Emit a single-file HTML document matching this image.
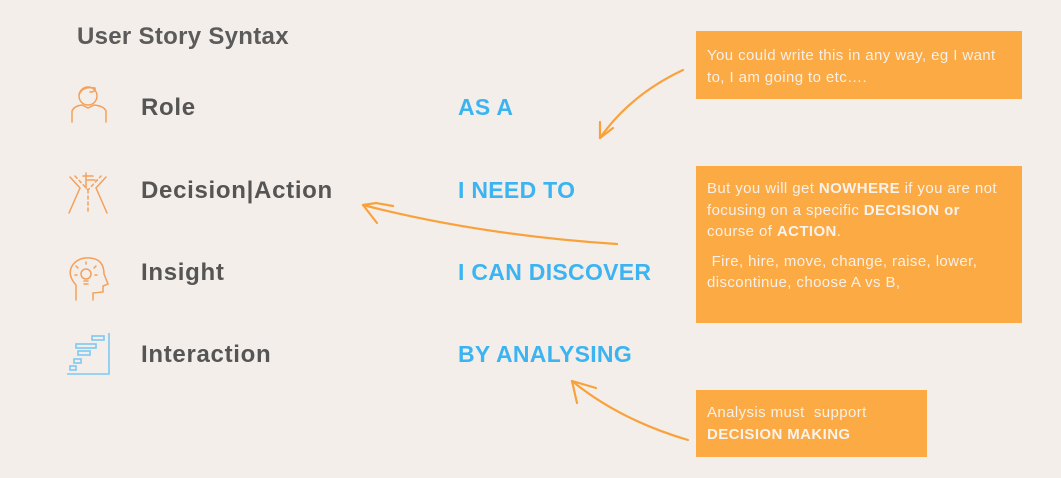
<!DOCTYPE html>
<html><head><meta charset="utf-8"><style>
html,body{margin:0;padding:0}
body{width:1061px;height:478px;background:#f3eeea;position:relative;overflow:hidden;font-family:"Liberation Sans",sans-serif}
.t{position:absolute;white-space:nowrap}
.title{left:77px;top:23px;font-size:24px;font-weight:bold;color:#5b5b5b;letter-spacing:0.3px}
.lab{left:141px;font-size:24px;font-weight:bold;color:#555;letter-spacing:0.7px}
.blue{left:458px;font-size:23px;font-weight:bold;color:#3bb4f1;letter-spacing:0.3px}
.box{position:absolute;background:#fcaa43;color:#f6f0ea;font-size:15px;letter-spacing:0.4px;line-height:21.5px;padding:13px 11px;box-sizing:border-box;white-space:nowrap}
.box b{color:#f8f3ee}
svg{position:absolute;left:0;top:0}
</style></head><body>
<div class="t title">User Story Syntax</div>
<div class="t lab" style="top:94px">Role</div>
<div class="t lab" style="top:177px">Decision|Action</div>
<div class="t lab" style="top:259px">Insight</div>
<div class="t lab" style="top:341px">Interaction</div>
<div class="t blue" style="top:94px">AS A</div>
<div class="t blue" style="top:177px">I NEED TO</div>
<div class="t blue" style="top:259px">I CAN DISCOVER</div>
<div class="t blue" style="top:341px">BY ANALYSING</div>

<div class="box" style="left:696px;top:31px;width:326px;height:68px;padding-top:14px">You could write this in any way, eg I want<br>to, I am going to etc….</div>
<div class="box" style="left:696px;top:166px;width:326px;height:157px;padding-top:12px">But you will get <b>NOWHERE</b> if you are not<br>focusing on a specific <b>DECISION or</b><br>course of <b>ACTION</b>.<div style="height:8px"></div>&nbsp;Fire, hire, move, change, raise, lower,<br>discontinue, choose A vs B,</div>
<div class="box" style="left:696px;top:390px;width:231px;height:67px;padding-top:12px">Analysis must&nbsp; support<br><b>DECISION MAKING</b></div>

<svg width="1061" height="478" viewBox="0 0 1061 478" fill="none">
<g stroke="#f9a23c" stroke-width="2.2" stroke-linecap="round">
<path d="M683 70 Q630 95 600 138"/>
<path d="M600 138 L600 122 M600 138 L613 128"/>
<path d="M617 244 Q480 235 363 205"/>
<path d="M363 205 L376 203 L393 206 M363 205 L377 223"/>
<path d="M688 440 Q620 420 572 381"/>
<path d="M572 381 L577 403 M572 381 L596 388"/>
</g>
<g stroke="#f5a05a" stroke-width="1.5" stroke-linecap="round">
<circle cx="88" cy="96" r="9"/>
<path d="M79 95 Q82 86 95 88 Q96 92 90 92"/>
<path d="M72 122 L72 111 Q74 106 82 105 L88 108 L94 105 Q104 106 106 111 L106 122"/>
<path d="M70 177 L80 188 L76 197 L69 213 M106 177 L96 188 L100 197 L107 213"/>
<path d="M75 176 L88 190 L101 176 M88 190 L88 213" stroke-dasharray="3 3"/>
<path d="M86 173 L86 188 M83 176 L93 176 M87 180 L95 180"/>
<path d="M76 300 L76 285 Q67 275 72 266 Q78 257 90 258 Q104 259 104 274 L108 284 L103 286 L103 292 L93 293 L93 300"/>
<circle cx="86" cy="274" r="5"/>
<path d="M84 281 L88 281 M84 284 L88 284 M86 264 L86 262 M78 268 L76 266 M94 268 L96 266 M77 275 L75 275 M95 275 L97 275"/>
</g>
<g stroke="#7ec9f3" stroke-width="1.6">
<path d="M67 374 L109 374 L109 333"/>
<rect x="70" y="366" width="6" height="4"/>
<rect x="74" y="359" width="7" height="4"/>
<rect x="78" y="351" width="12" height="4"/>
<rect x="76" y="344" width="20" height="4"/>
<rect x="92" y="336" width="12" height="4"/>
</g>
</svg>
</body></html>
